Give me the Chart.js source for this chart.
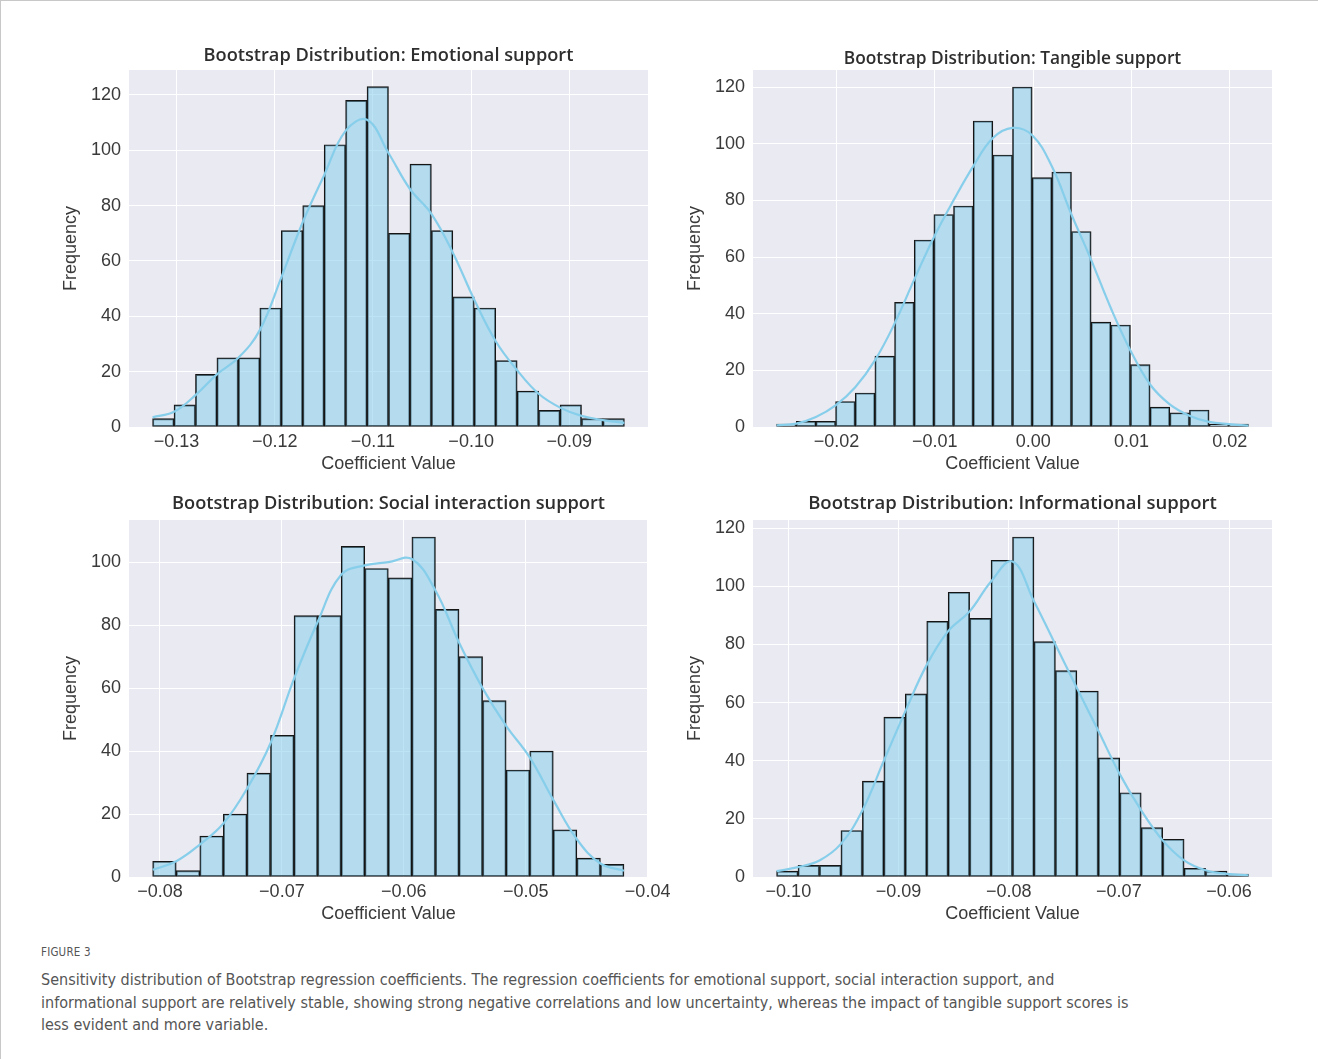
<!DOCTYPE html>
<html>
<head>
<meta charset="utf-8">
<script src="https://cdn.jsdelivr.net/npm/chart.js@4.4.1/dist/chart.umd.min.js"></script>
<style>
  html, body { margin: 0; padding: 0; background: #fff; }
  #page { position: relative; width: 1318px; height: 1059px; overflow: hidden;
          border-top: 1px solid #c8c8c8; border-left: 1px solid #c8c8c8; box-sizing: border-box; }
  .panel { position: absolute; }
  #figlabel { position: absolute; left: 40px; top: 944px; font-family: "Liberation Sans Narrow", "DejaVu Sans Condensed", sans-serif;
              font-size: 11.5px; color: #555; letter-spacing: 0.2px; }
  #caption { position: absolute; left: 40px; top: 968px; font-family: "Liberation Sans Narrow", "DejaVu Sans Condensed", sans-serif;
             font-size: 16px; line-height: 22.5px; color: #555; white-space: nowrap; }
</style>
</head>
<body>
<div id="page">
  <div class="panel" style="left:55px;top:35px;"><canvas id="emo" width="622" height="441"></canvas></div>
  <div class="panel" style="left:679px;top:35px;"><canvas id="tan" width="622" height="441"></canvas></div>
  <div class="panel" style="left:55px;top:485px;"><canvas id="soc" width="622" height="441"></canvas></div>
  <div class="panel" style="left:679px;top:485px;"><canvas id="inf" width="622" height="441"></canvas></div>
  <div id="figlabel">FIGURE 3</div>
  <div id="caption">
    Sensitivity distribution of Bootstrap regression coefficients. The regression coefficients for emotional support, social interaction support, and<br>
    informational support are relatively stable, showing strong negative correlations and low uncertainty, whereas the impact of tangible support scores is<br>
    less evident and more variable.
  </div>
</div>
<script>
// histogram counts per bin (1000 bootstrap draws each) and KDE read at the bin edges
const emoCounts = [3, 8, 19, 25, 25, 43, 71, 80, 102, 118, 123, 70, 95, 71, 47, 43, 24, 13, 6, 8, 3, 3];
const emoKde = [3.5, 5.5, 11.5, 19, 25, 35, 54, 74, 91, 107, 111, 99, 86, 77, 63, 46, 31, 20.5, 12, 7, 4, 2.5, 1.5];
const emoBinStart = -0.13244, emoBinWidth = 0.002184;
const emoXRange = [-0.13484, -0.08199], emoYMax = 129;

const tanCounts = [1, 2, 2, 9, 12, 25, 44, 66, 75, 78, 108, 96, 120, 88, 90, 69, 37, 36, 22, 7, 5, 6, 1, 1];
const tanKde = [0.6, 1.2, 3.5, 7.6, 14, 23.5, 36.5, 52, 67, 80, 92, 102, 105.6, 103, 92, 75, 59, 42, 27, 15, 8, 4, 1.8, 1, 0.5];
const tanBinStart = -0.0261, tanBinWidth = 0.002;
const tanXRange = [-0.0285, 0.0243], tanYMax = 126;

const socCounts = [5, 2, 13, 20, 33, 45, 83, 83, 105, 98, 95, 108, 85, 70, 56, 34, 40, 15, 6, 4];
const socKde = [2.3, 5, 10.3, 17, 28, 42.5, 63, 81, 96, 99, 100, 101, 91, 74.5, 60, 48, 38, 24.5, 12, 4.3, 2];
const socBinStart = -0.0806, socBinWidth = 0.001933;
const socXRange = [-0.08254, -0.03997], socYMax = 113.4;

const infCounts = [2, 4, 4, 16, 33, 55, 63, 88, 98, 89, 109, 117, 81, 71, 64, 41, 29, 17, 13, 3, 2, 1];
const infKde = [2, 3.4, 5.7, 11.4, 22.9, 40, 57, 73, 84.6, 91.4, 101.7, 108.6, 94.9, 80, 65, 50.3, 35.4, 22.9, 12.6, 5.7, 2.3, 1.1, 0.6];
const infBinStart = -0.10107, infBinWidth = 0.001947;
const infXRange = [-0.10321, -0.0561], infYMax = 122.85;

const TEXT = '#3a3a3a';
const TICK_FONT = { family: '"Liberation Sans", Arial, sans-serif', size: 18 };
const TITLE_BOX = 34; // px from canvas top to plot area

// seaborn-ish grey panel behind the plot area
const panelBg = {
    id: 'panelBg',
    beforeDraw(chart) {
        const { ctx, chartArea: a } = chart;
        ctx.save();
        ctx.fillStyle = '#eaeaf2';
        ctx.fillRect(a.left, a.top, a.right - a.left, a.bottom - a.top);
        ctx.restore();
    }
};

function fmt(v) {
    if (Math.abs(v) < 1e-9) return '0.00';
    return v.toFixed(2).replace('-', '\u2212');
}

function drawHist(id, title, titleSize, titleTop, counts, kde, binStart, binWidth, xRange, yMax) {
    const bars = counts.map((c, i) => ({ x: binStart + (i + 0.5) * binWidth, y: c }));
    const curve = kde.map((k, i) => ({ x: binStart + i * binWidth, y: k }));

    new Chart(document.getElementById(id), {
        type: 'bar',
        data: {
            datasets: [
                {
                    type: 'line',
                    data: curve,
                    borderColor: '#87ceeb',
                    borderWidth: 2.2,
                    pointRadius: 0,
                    tension: 0.4,
                    order: 0
                },
                {
                    data: bars,
                    backgroundColor: 'rgba(135,206,235,0.55)',
                    borderColor: '#151515',
                    borderWidth: 1.2,
                    borderSkipped: false,
                    barPercentage: 1,
                    categoryPercentage: 1,
                    order: 1
                }
            ]
        },
        options: {
            responsive: false,
            animation: false,
            layout: { padding: { right: 30 } },
            plugins: {
                legend: { display: false },
                tooltip: { enabled: false },
                title: {
                    display: true,
                    text: title,
                    fullSize: false,
                    color: '#2e2e2e',
                    font: { family: '"Open Sans", sans-serif', size: titleSize, weight: '600', lineHeight: 1.2 },
                    padding: { top: titleTop, bottom: TITLE_BOX - 1.2 * titleSize - titleTop }
                }
            },
            scales: {
                x: {
                    type: 'linear',
                    offset: false,
                    min: xRange[0],
                    max: xRange[1],
                    border: { display: false },
                    grid: { color: '#ffffff', lineWidth: 1, drawTicks: false, offset: false },
                    ticks: {
                        stepSize: 0.01,
                        includeBounds: false,
                        padding: 4,
                        color: TEXT,
                        font: TICK_FONT,
                        maxRotation: 0,
                        callback: v => fmt(v)
                    },
                    title: { display: true, text: 'Coefficient Value', color: TEXT, font: TICK_FONT, padding: { top: 0, bottom: 2 } },
                    afterFit: s => { s.height = 50; }
                },
                y: {
                    min: 0,
                    max: yMax,
                    border: { display: false },
                    grid: { color: '#ffffff', lineWidth: 1, drawTicks: false },
                    ticks: { stepSize: 20, includeBounds: false, padding: 8, color: TEXT, font: TICK_FONT },
                    title: { display: true, text: 'Frequency', color: TEXT, font: TICK_FONT, padding: { top: 4, bottom: 0 } },
                    afterFit: s => { s.width = 73; }
                }
            }
        },
        plugins: [panelBg]
    });
}

drawHist('emo', 'Bootstrap Distribution: Emotional support', 18.2, 9, emoCounts, emoKde, emoBinStart, emoBinWidth, emoXRange, emoYMax);
drawHist('tan', 'Bootstrap Distribution: Tangible support', 17.3, 12.5, tanCounts, tanKde, tanBinStart, tanBinWidth, tanXRange, tanYMax);
drawHist('soc', 'Bootstrap Distribution: Social interaction support', 18.2, 7, socCounts, socKde, socBinStart, socBinWidth, socXRange, socYMax);
drawHist('inf', 'Bootstrap Distribution: Informational support', 18.5, 7, infCounts, infKde, infBinStart, infBinWidth, infXRange, infYMax);
</script>
</body>
</html>
